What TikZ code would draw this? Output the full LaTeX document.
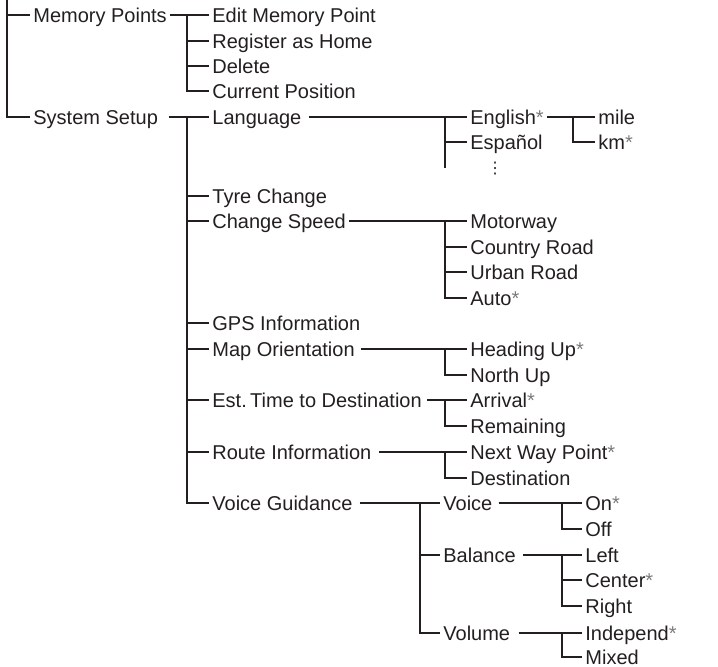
\documentclass[tikz,border=0pt]{standalone}
\usepackage{fontspec}
\setmainfont{Liberation Sans}
\newfontfamily\symfont{DejaVu Sans}
\usepackage{xcolor}
\usepackage{tikz}
\usetikzlibrary{positioning,calc}

\definecolor{inkgray}{HTML}{231F20}
\definecolor{stargray}{HTML}{7A7A7A}
\newcommand{\dflt}{{\color{stargray}*}}

\begin{document}
\begin{tikzpicture}[
    x=0.5pt, y=-0.5pt,
    item/.style={anchor=west, inner xsep=1.5pt, inner ysep=1pt, text height=8pt, text depth=0pt, font=\fontsize{10}{12}\selectfont, text=inkgray},
    link/.style={draw=inkgray, line width=0.6pt}
]
    \useasboundingbox (0,0) rectangle (718,667);

    % Top level
    \coordinate (root) at (7,0);
    \node [item] (mem) at (30,15) {Memory Points};
    \node [item] (sys) at (30,117) {System Setup};

    % Memory points branch
    \node [item] (editmem) at (209,15) {Edit Memory Point};
    \node [item] (home) at (209,41) {Register as Home};
    \node [item] (delete) at (209,66) {Delete};
    \node [item] (curpos) at (209,91) {Current Position};

    % System setup branch
    \node [item] (lang) at (209,117) {Language};
    \node [item] (tyre) at (209,196) {Tyre Change};
    \node [item] (speed) at (209,221) {Change Speed};
    \node [item] (gps) at (209,323) {GPS Information};
    \node [item] (maporient) at (209,349) {Map Orientation};
    \node [item] (esttime) at (209,400) {Est.\,Time to Destination};
    \node [item] (routeinfo) at (209,452) {Route Information};
    \node [item] (guidance) at (209,503) {Voice Guidance};

    % Language
    \node [item] (english) at (467,117) {English\dflt};
    \node [item] (espanol) at (467,142) {Español};
    \node [inner sep=0pt, text=inkgray, font=\symfont\fontsize{8}{9}\selectfont] (more) at (495,169) {⋮};
    \coordinate (langend) at (445,168);
    \node [item] (mile) at (595,117) {mile};
    \node [item] (km) at (595,142) {km\dflt};

    % Change speed
    \node [item] (motorway) at (467,221) {Motorway};
    \node [item] (country) at (467,247) {Country Road};
    \node [item] (urban) at (467,272) {Urban Road};
    \node [item] (auto) at (467,298) {Auto\dflt};

    % Map orientation, time, route
    \node [item] (heading) at (467,349) {Heading Up\dflt};
    \node [item] (north) at (467,375) {North Up};
    \node [item] (arrival) at (467,400) {Arrival\dflt};
    \node [item] (remain) at (467,426) {Remaining};
    \node [item] (waypoint) at (467,452) {Next Way Point\dflt};
    \node [item] (dest) at (467,478) {Destination};

    % Voice guidance
    \node [item] (voice) at (440,503) {Voice};
    \node [item] (balance) at (440,555) {Balance};
    \node [item] (volume) at (440,633) {Volume};
    \node [item] (on) at (582,503) {On\dflt};
    \node [item] (off) at (582,529) {Off};
    \node [item] (left) at (582,555) {Left};
    \node [item] (center) at (582,580) {Center\dflt};
    \node [item] (right) at (582,606) {Right};
    \node [item] (independ) at (582,633) {Independ\dflt};
    \node [item] (mixed) at (582,657) {Mixed};

    % Connections
    \draw [link] (root) |- (mem.west);
    \draw [link] (root) |- (sys.west);

    \draw [link] (mem.east) -| ([xshift=-11pt]editmem.west) -- (editmem.west);
    \draw [link] (mem.east) -| ([xshift=-11pt]home.west) -- (home.west);
    \draw [link] (mem.east) -| ([xshift=-11pt]delete.west) -- (delete.west);
    \draw [link] (mem.east) -| ([xshift=-11pt]curpos.west) -- (curpos.west);

    \draw [link] ([xshift=4pt]sys.east) -| ([xshift=-11pt]lang.west) -- (lang.west);
    \draw [link] ([xshift=4pt]sys.east) -| ([xshift=-11pt]tyre.west) -- (tyre.west);
    \draw [link] ([xshift=4pt]sys.east) -| ([xshift=-11pt]speed.west) -- (speed.west);
    \draw [link] ([xshift=4pt]sys.east) -| ([xshift=-11pt]gps.west) -- (gps.west);
    \draw [link] ([xshift=4pt]sys.east) -| ([xshift=-11pt]maporient.west) -- (maporient.west);
    \draw [link] ([xshift=4pt]sys.east) -| ([xshift=-11pt]esttime.west) -- (esttime.west);
    \draw [link] ([xshift=4pt]sys.east) -| ([xshift=-11pt]routeinfo.west) -- (routeinfo.west);
    \draw [link] ([xshift=4pt]sys.east) -| ([xshift=-11pt]guidance.west) -- (guidance.west);

    \draw [link] ([xshift=2pt]lang.east) -| ([xshift=-11pt]english.west) -- (english.west);
    \draw [link] ([xshift=2pt]lang.east) -| ([xshift=-11pt]espanol.west) -- (espanol.west);
    \draw [link] ([xshift=-11pt]espanol.west) -- (langend);
    \draw [link] (english.east) -| ([xshift=-11pt]mile.west) -- (mile.west);
    \draw [link] (english.east) -| ([xshift=-11pt]km.west) -- (km.west);

    \draw [link] (speed.east) -| ([xshift=-11pt]motorway.west) -- (motorway.west);
    \draw [link] (speed.east) -| ([xshift=-11pt]country.west) -- (country.west);
    \draw [link] (speed.east) -| ([xshift=-11pt]urban.west) -- (urban.west);
    \draw [link] (speed.east) -| ([xshift=-11pt]auto.west) -- (auto.west);

    \draw [link] ([xshift=1.5pt]maporient.east) -| ([xshift=-11pt]heading.west) -- (heading.west);
    \draw [link] ([xshift=1.5pt]maporient.east) -| ([xshift=-11pt]north.west) -- (north.west);
    \draw [link] ([xshift=1pt]esttime.east) -| ([xshift=-11pt]arrival.west) -- (arrival.west);
    \draw [link] ([xshift=1pt]esttime.east) -| ([xshift=-11pt]remain.west) -- (remain.west);
    \draw [link] ([xshift=2pt]routeinfo.east) -| ([xshift=-11pt]waypoint.west) -- (waypoint.west);
    \draw [link] ([xshift=2pt]routeinfo.east) -| ([xshift=-11pt]dest.west) -- (dest.west);

    \draw [link] ([xshift=2pt]guidance.east) -| ([xshift=-10pt]voice.west) -- (voice.west);
    \draw [link] ([xshift=2pt]guidance.east) -| ([xshift=-10pt]balance.west) -- (balance.west);
    \draw [link] ([xshift=2pt]guidance.east) -| ([xshift=-10pt]volume.west) -- (volume.west);
    \draw [link] ([xshift=1.5pt]voice.east) -| ([xshift=-10pt]on.west) -- (on.west);
    \draw [link] ([xshift=1.5pt]voice.east) -| ([xshift=-10pt]off.west) -- (off.west);
    \draw [link] ([xshift=2pt]balance.east) -| ([xshift=-10pt]left.west) -- (left.west);
    \draw [link] ([xshift=2pt]balance.east) -| ([xshift=-10pt]center.west) -- (center.west);
    \draw [link] ([xshift=2pt]balance.east) -| ([xshift=-10pt]right.west) -- (right.west);
    \draw [link] ([xshift=2.5pt]volume.east) -| ([xshift=-10pt]independ.west) -- (independ.west);
    \draw [link] ([xshift=2.5pt]volume.east) -| ([xshift=-10pt]mixed.west) -- (mixed.west);

\end{tikzpicture}
\end{document}
